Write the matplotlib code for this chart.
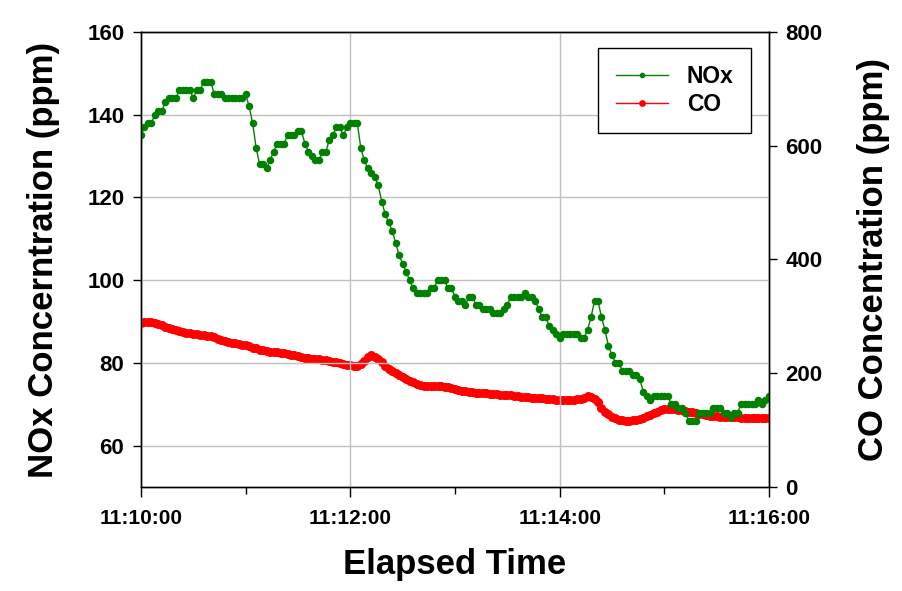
import numpy as np
import matplotlib
matplotlib.use('Agg')
from matplotlib import pyplot as plt
import matplotlib.dates as mdates

plt.rcParams['font.family'] = ['Liberation Sans', 'DejaVu Sans']
plt.rcParams['font.weight'] = 'bold'

# one sample every 2 s starting at 11:10:00
start_time = np.datetime64('2000-01-01T11:10:00')
sample_step = np.timedelta64(2, 's')

nox_ppm = [
    135, 137, 138, 138, 140, 141, 141, 143, 144, 144,
    144, 146, 146, 146, 146, 144, 146, 146, 148, 148,
    148, 145, 145, 145, 144, 144, 144, 144, 144, 144,
    145, 142, 138, 132, 128, 128, 127, 129, 131, 133,
    133, 133, 135, 135, 135, 136, 136, 133, 131, 130,
    129, 129, 131, 131, 134, 135, 137, 137, 135, 137,
    138, 138, 138, 132, 129, 127, 126, 125, 123, 119,
    116, 114, 112, 109, 106, 104, 102, 100, 98, 97,
    97, 97, 97, 98, 98, 100, 100, 100, 98, 98,
    96, 95, 95, 94, 96, 96, 94, 94, 93, 93,
    93, 92, 92, 92, 93, 94, 96, 96, 96, 96,
    97, 96, 96, 95, 93, 91, 91, 89, 88, 87,
    86, 87, 87, 87, 87, 87, 86, 86, 88, 91,
    95, 95, 91, 88, 84, 82, 80, 80, 78, 78,
    78, 77, 77, 76, 73, 72, 71, 72, 72, 72,
    72, 72, 70, 70, 69, 69, 68, 66, 66, 66,
    68, 68, 68, 68, 69, 69, 69, 68, 68, 67,
    68, 68, 70, 70, 70, 70, 70, 71, 70, 71, 72,
]

co_ppm = [
    289, 289.5, 290, 290, 288.5, 287, 284.5, 282, 279.5, 277.5,
    275.5, 273.5, 272.5, 271.5, 270.5, 269.5, 269, 268, 267, 266,
    265, 263, 261, 258.5, 256.5, 255, 254, 253, 251.5, 250.5,
    249, 247, 245, 243.5, 241.5, 240, 239, 238, 237.5, 236.5,
    236, 235, 234, 232.5, 231.5, 230, 228.5, 227, 226, 225.5,
    225, 224.5, 223.5, 222.5, 221.5, 220.5, 219, 217.5, 216, 214.5,
    214, 213.5, 213.5, 216.5, 222, 228, 231.5, 229, 225, 219,
    212, 207, 204, 200.5, 197.5, 194, 190, 186.5, 184, 181.5,
    179.5, 178, 177.5, 177.5, 177.5, 177.5, 177, 176.5, 175.5, 174,
    172.5, 171, 169.5, 168, 167, 166.5, 166, 165.5, 165, 164.5,
    164, 163.5, 163, 162.5, 162, 161.5, 161, 160, 159.5, 158.5,
    158, 157.5, 157, 156.5, 156, 156, 155.5, 155, 154, 153.5,
    153, 153, 153, 153, 153.5, 154, 155, 157, 159.5, 159,
    155.5, 149, 139.5, 132, 127.5, 123.5, 120.5, 118.5, 117.5, 116.5,
    116.5, 117, 118, 119.5, 121.5, 124, 127, 130, 132.5, 135,
    136.5, 137, 137, 136.5, 135.5, 135, 134, 132.5, 131, 130,
    128.5, 127.5, 126.5, 125.5, 125, 124, 123.5, 123, 123, 122.5,
    122.5, 122.5, 122, 122, 121.5, 121, 121, 121, 120.5, 120.5, 121.5,
]

times = start_time + np.arange(len(nox_ppm)) * sample_step

fig = plt.figure(figsize=(9.02, 5.91), dpi=100)
ax = fig.add_axes([0.1563, 0.176, 0.6962, 0.7699])
ax_co = ax.twinx()
# NOx drawn on top of CO
ax.set_zorder(ax_co.get_zorder() + 1)
ax.patch.set_visible(False)

ax_co.plot(times, co_ppm, color='red', marker='o', markersize=6.5,
           markeredgewidth=0, linewidth=1, label='CO')
ax.plot(times, nox_ppm, color='green', marker='o', markersize=5.4,
        markeredgewidth=0, linewidth=1, label='NOx')

ax.set_ylim(50, 160)
ax.set_yticks([60, 80, 100, 120, 140, 160])
ax_co.set_ylim(0, 800)
ax_co.set_yticks([0, 200, 400, 600, 800])
ax.set_xlim(start_time, start_time + np.timedelta64(6, 'm'))

ax.xaxis.set_major_locator(mdates.MinuteLocator(byminute=range(0, 60, 2)))
ax.xaxis.set_minor_locator(mdates.MinuteLocator())
ax.xaxis.set_major_formatter(mdates.DateFormatter('%H:%M:%S'))

ax.grid(True, which='major', color='#c0c0c0', linewidth=1)

for a in (ax, ax_co):
    for s in a.spines.values():
        s.set_linewidth(1.0)
ax.tick_params(axis='y', direction='out', length=6, width=1, labelsize=16, pad=6)
ax_co.tick_params(axis='y', direction='out', length=6, width=1, labelsize=16, pad=6)
ax.tick_params(axis='x', which='major', direction='out', length=7, width=1, labelsize=15, pad=9)
ax.tick_params(axis='x', which='minor', direction='out', length=5, width=1)

ax.set_ylabel('NOx Concerntration (ppm)', fontsize=25, fontweight='bold')
ax_co.set_ylabel('CO Concentration (ppm)', fontsize=25, fontweight='bold')
ax.set_xlabel('Elapsed Time', fontsize=25, fontweight='bold')
ax.yaxis.set_label_coords(-0.155, 0.5)
ax_co.yaxis.set_label_coords(1.167, 0.5)
ax.xaxis.set_label_coords(0.5, -0.134)
ax.yaxis.label.set_va('center')
ax_co.yaxis.label.set_va('center')

handles = ax.get_lines() + ax_co.get_lines()
leg = ax.legend(handles, ['NOx', 'CO'], loc='upper right', bbox_to_anchor=(0.971, 0.965),
                fontsize=16.5, frameon=True, fancybox=False, shadow=False,
                numpoints=1, handlelength=2.3, markerscale=0.75, labelspacing=0.2,
                borderpad=0.75, handletextpad=0.8, borderaxespad=0)
leg.get_frame().set_edgecolor('black')
leg.get_frame().set_linewidth(1.0)
leg.get_frame().set_alpha(1)

fig.savefig('out.png', dpi=100)
